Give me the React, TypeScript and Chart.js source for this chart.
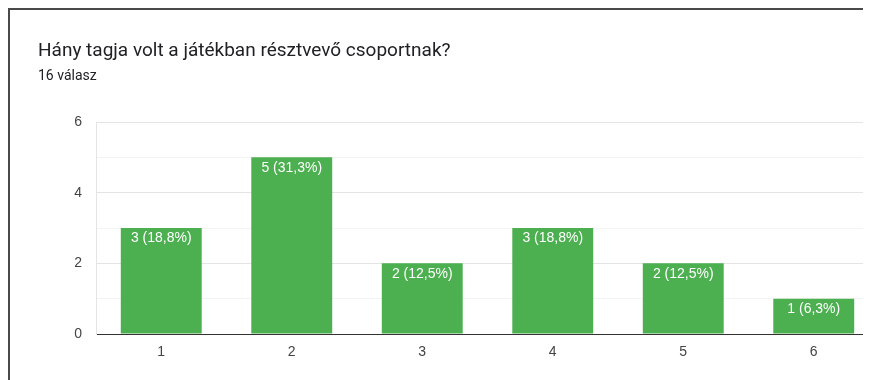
import React, { useEffect, useRef } from "react";
import { Chart, registerables } from "chart.js";

Chart.register(...registerables);

const TITLE = "Hány tagja volt a játékban résztvevő csoportnak?";
const SUBTITLE = "16 válasz";
const categories = ["1", "2", "3", "4", "5", "6"];
const counts = [3, 5, 2, 3, 2, 1];
const totalResponses = 16;
const yTickLabels = ["0", "2", "4", "6"];

const HEAD_FONT = "Roboto, 'Noto Sans', Arial, sans-serif";
const AXIS_FONT = "'Liberation Sans', Arial, sans-serif";

function pctLabel(v: number): string {
  const pct = ((v / totalResponses) * 100).toFixed(1).replace(".", ",");
  return `${v} (${pct}%)`;
}

// White "count (percent)" label just inside the top of each bar
const barLabels = {
  id: "barLabels",
  afterDatasetsDraw(chart: any) {
    const ctx = chart.ctx;
    const meta = chart.getDatasetMeta(0);
    ctx.save();
    ctx.fillStyle = "#ffffff";
    ctx.font = `14px ${AXIS_FONT}`;
    ctx.textAlign = "center";
    ctx.textBaseline = "middle";
    meta.data.forEach((bar: any, i: number) => {
      ctx.fillText(pctLabel(counts[i]), bar.x, bar.y + 10.5);
    });
    ctx.restore();
  },
};

export default function App() {
  const ref = useRef<HTMLCanvasElement>(null);

  useEffect(() => {
    if (!ref.current) return;
    const chart = new Chart(ref.current, {
      type: "bar",
      data: {
        labels: categories,
        datasets: [
          {
            data: counts,
            backgroundColor: "#4caf50",
            borderWidth: 0,
            barPercentage: 0.62,
            categoryPercentage: 1,
          },
        ],
      },
      options: {
        animation: false,
        responsive: false,
        devicePixelRatio: 1,
        layout: { padding: { top: 112, right: 11, left: 0, bottom: 0 } },
        plugins: { legend: { display: false }, tooltip: { enabled: false } },
        scales: {
          x: {
            grid: { display: false, drawTicks: false },
            border: { color: "#333333", width: 1 },
            ticks: {
              color: "#444444",
              font: { family: AXIS_FONT, size: 14 },
              padding: 10,
            },
            afterFit: (s: any) => {
              s.height = 46;
            },
          },
          y: {
            min: 0,
            max: 6,
            grid: {
              drawTicks: false,
              color: (c: any) =>
                c.tick && c.tick.value % 2 === 0 ? "#e4e4e4" : "#f3f3f3",
            },
            border: { color: "#e4e4e4" },
            ticks: {
              stepSize: 1,
              color: "#444444",
              font: { family: AXIS_FONT, size: 14 },
              padding: 14,
              callback: (v: any) =>
                yTickLabels.includes(String(v)) ? String(v) : "",
            },
            afterFit: (s: any) => {
              s.width = 86;
            },
          },
        },
      },
      plugins: [barLabels],
    });
    return () => chart.destroy();
  }, []);

  return (
    <div
      style={{
        position: "relative",
        width: 863,
        height: 372,
        overflow: "hidden",
        boxSizing: "border-box",
        borderTop: "2px solid #4a4a4a",
        borderLeft: "2px solid #4a4a4a",
        background: "#ffffff",
        fontFamily: HEAD_FONT,
      }}
    >
      <canvas
        ref={ref}
        width={880}
        height={370}
        style={{ position: "absolute", left: 0, top: 0 }}
      />
      <div
        style={{
          position: "absolute",
          left: 28,
          top: 28,
          fontSize: 19,
          lineHeight: "24px",
          color: "#202124",
          whiteSpace: "nowrap",
        }}
      >
        {TITLE}
      </div>
      <div
        style={{
          position: "absolute",
          left: 28,
          top: 56,
          fontSize: 14,
          lineHeight: "18px",
          color: "#202124",
          whiteSpace: "nowrap",
        }}
      >
        {SUBTITLE}
      </div>
    </div>
  );
}
